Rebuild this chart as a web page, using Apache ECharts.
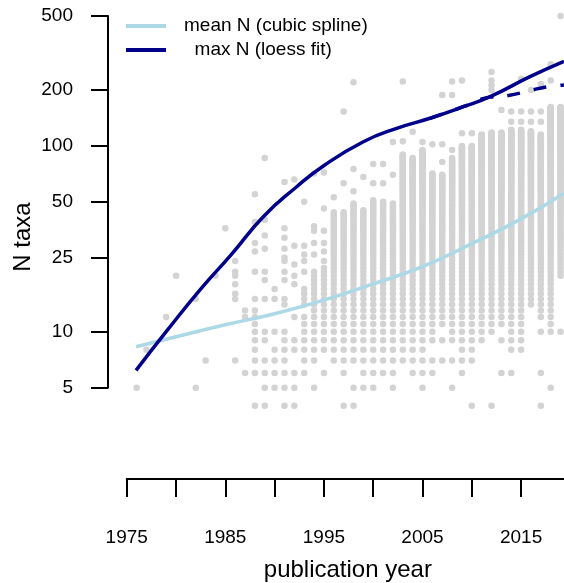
<!DOCTYPE html>
<html>
<head>
<meta charset="utf-8">
<script src="https://cdn.jsdelivr.net/npm/echarts@6.0.0/dist/echarts.min.js"></script>
<style>
    html, body { margin: 0; padding: 0; background: #fff; }
    #chart { width: 564px; height: 583px; }
</style>
</head>
<body>
<div id="chart"></div>
<script>
// y tick labels (log scale)
const yTicks = [5, 10, 25, 50, 100, 200, 500];

// dense columns of studies: year, lowest N, highest N (every integer in between)
const colYears = [1994, 1995, 1996, 1997, 1998, 1999, 2000, 2001, 2002, 2003, 2004, 2005, 2006,
    2007, 2008, 2009, 2010, 2011, 2012, 2013, 2014, 2015, 2016, 2017, 2018, 2019];
const colLow = [7, 8, 7, 6, 7, 7, 7, 7, 7, 7, 6, 5, 9,
    11, 9, 6, 7, 9, 10, 11, 8, 8, 14, 12, 10, 20];
const colHigh = [21, 22, 44, 44, 49, 45, 51, 50, 49, 90, 86, 95, 71,
    70, 86, 100, 100, 115, 118, 118, 122, 122, 120, 115, 162, 162];

// isolated studies per year
const spotYears = [1976, 1977, 1979, 1980, 1982, 1983, 1984, 1985, 1986, 1987, 1988, 1989, 1990,
    1991, 1992, 1993, 1994, 1995, 1996, 1997, 1998, 1999, 2000, 2001, 2002, 2003, 2004, 2005,
    2006, 2007, 2008, 2009, 2010, 2012, 2013, 2014, 2015, 2016, 2017, 2018, 2019];
const spotN = [
    [5], [8], [12], [20], [5, 15], [7], [20], [36],
    [7, 15, 16, 18, 20, 21, 24],
    [6, 12, 13],
    [4, 6, 7, 8, 9, 10, 11, 12, 13, 15, 21, 27, 30, 39, 55],
    [4, 5, 6, 7, 9, 10, 15, 19, 21, 28, 33, 40, 86],
    [5, 6, 7, 8, 10, 15, 17],
    [4, 5, 6, 7, 8, 9, 10, 14, 15, 19, 21, 24, 25, 28, 32, 36, 64],
    [4, 5, 6, 8, 9, 12, 18, 20, 23, 29, 66],
    [6, 7, 8, 9, 10, 11, 12, 14, 15, 16, 17, 21, 24, 26, 29, 50],
    [5, 26, 30, 35, 37, 71],
    [6, 24, 27, 30, 35, 46, 72],
    [53],
    [4, 63, 153],
    [4, 5, 57, 75, 220],
    [5, 6, 68],
    [5, 6, 63, 80],
    [6, 63, 80],
    [5, 6, 70, 105],
    [106, 222],
    [119],
    [105],
    [6, 7, 102],
    [7, 9, 82, 102, 188],
    [5, 7, 95, 188, 222],
    [117, 225],
    [4, 117],
    [4, 200, 212, 225, 250],
    [6, 9, 156],
    [6, 135, 153],
    [135, 153, 230],
    [135, 153, 200],
    [4, 6, 10, 135, 153, 215],
    [5, 225, 275],
    [10, 500]
];

// mean N (cubic spline)
const meanYears = [1975.94, 1980, 1985, 1990, 1995, 2000, 2005, 2010, 2015, 2019.35];
const meanN = [8.3, 9.4, 10.9, 12.5, 14.8, 18.1, 22.4, 29.8, 40.5, 55.7];

// max N (loess fit)
const maxYears = [1975.94, 1979.06, 1982.43, 1985.6, 1988.85, 1992.24, 1994.94, 1999.0, 2002.38, 2005.76, 2009.14, 2011.85, 2015.9, 2019.35];
const maxN = [6.2, 10.1, 16.8, 26, 41.6, 60.3, 78, 105.3, 124.3, 140.8, 162.5, 184, 235.7, 285];

// dashed alternative fit
const maxAltYears = [2005.76, 2009.14, 2011.85, 2013.5, 2016.2, 2017.4, 2019.35];
const maxAltN = [140.8, 162.5, 183, 186, 200, 207, 213];


const FONT = '"Liberation Sans", Arial, Helvetica, sans-serif';

function buildPoints() {
    const pts = [];
    colYears.forEach((yr, i) => {
        for (let n = colLow[i]; n <= colHigh[i]; n++) pts.push([yr, n]);
    });
    spotYears.forEach((yr, i) => {
        spotN[i].forEach(n => pts.push([yr, n]));
    });
    return pts;
}

const chart = echarts.init(document.getElementById('chart'), null, { renderer: 'canvas' });

const option = {
    animation: false,
    backgroundColor: '#fff',
    legend: {
        orient: 'vertical',
        left: 126,
        top: 14,
        padding: 0,
        itemGap: 0,
        itemWidth: 40,
        itemHeight: 4,
        icon: 'rect',
        selectedMode: false,
        data: ['mean N (cubic spline)', '  max N (loess fit)'],
        textStyle: {
            fontFamily: FONT,
            fontSize: 19,
            color: '#000',
            lineHeight: 24,
            padding: [0, 0, 0, 13]
        }
    },
    grid: [
        // y axis drawn only from 5 to 500
        { left: 108, right: 0, top: 16, bottom: 195.3, outerBoundsMode: 'none', containLabel: false },
        // data area
        { left: 108, right: 0, top: 16, bottom: 104, outerBoundsMode: 'none', containLabel: false },
        // x axis drawn from 1975
        { left: 126.7, right: 0, top: 16, bottom: 104, outerBoundsMode: 'none', containLabel: false }
    ],
    xAxis: [
        { gridIndex: 0, type: 'value', min: 1973.1, max: 2019.35, show: false },
        { gridIndex: 1, type: 'value', min: 1973.1, max: 2019.35, show: false },
        {
            gridIndex: 2, type: 'value', min: 1975, max: 2019.35, interval: 5,
            position: 'bottom',
            axisLine: { show: true, lineStyle: { color: '#000', width: 2 } },
            axisTick: { show: true, inside: false, length: 18, lineStyle: { color: '#000', width: 2 } },
            splitLine: { show: false },
            axisLabel: {
                show: true,
                margin: 49,
                fontFamily: FONT,
                fontSize: 19,
                color: '#000',
                showMaxLabel: false,
                formatter: v => (v % 10 === 5 ? String(v) : '')
            },
            name: 'publication year',
            nameLocation: 'middle',
            nameGap: 79,
            nameTextStyle: { fontFamily: FONT, fontSize: 24, color: '#000', padding: [0, 0, 0, 5] }
        }
    ],
    yAxis: [
        {
            gridIndex: 0, type: 'log', logBase: 10, min: 5, max: 500,
            axisLine: { show: true, lineStyle: { color: '#000', width: 2 } },
            axisTick: { show: true, inside: false, length: 17, customValues: yTicks, lineStyle: { color: '#000', width: 2 } },
            splitLine: { show: false },
            minorTick: { show: false },
            axisLabel: {
                show: true,
                margin: 35,
                fontFamily: FONT,
                fontSize: 19,
                color: '#000',
                customValues: yTicks
            }
        },
        {
            gridIndex: 1, type: 'log', logBase: 10, min: 1.613, max: 500,
            axisLine: { show: false },
            axisTick: { show: false },
            axisLabel: { show: false },
            splitLine: { show: false },
            name: 'N taxa',
            nameLocation: 'middle',
            nameGap: 73,
            nameRotate: 90,
            nameTextStyle: { fontFamily: FONT, fontSize: 24, color: '#000', padding: [0, 0, 0, 21] }
        },
        { gridIndex: 2, type: 'log', logBase: 10, min: 1.613, max: 500, show: false }
    ],
    series: [
        {
            name: 'studies',
            type: 'scatter',
            xAxisIndex: 1,
            yAxisIndex: 1,
            symbol: 'circle',
            symbolSize: 6.5,
            progressive: 0,
            clip: false,
            silent: true,
            itemStyle: { color: '#D3D3D3', opacity: 1 },
            data: buildPoints(),
            z: 1
        },
        {
            name: 'mean N (cubic spline)',
            type: 'line',
            xAxisIndex: 1,
            yAxisIndex: 1,
            smooth: true,
            showSymbol: false,
            clip: false,
            itemStyle: { color: '#ADD8E6' },
            lineStyle: { color: '#ADD8E6', width: 3.5 },
            data: meanYears.map((x, i) => [x, meanN[i]]),
            z: 3
        },
        {
            name: 'max N alt',
            type: 'line',
            xAxisIndex: 1,
            yAxisIndex: 1,
            smooth: true,
            showSymbol: false,
            clip: false,
            itemStyle: { color: '#00008B' },
            lineStyle: { color: '#00008B', width: 3.5, type: [13, 14] },
            data: maxAltYears.map((x, i) => [x, maxAltN[i]]),
            z: 3
        },
        {
            name: '  max N (loess fit)',
            type: 'line',
            xAxisIndex: 1,
            yAxisIndex: 1,
            smooth: true,
            showSymbol: false,
            clip: false,
            itemStyle: { color: '#00008B' },
            lineStyle: { color: '#00008B', width: 3.5 },
            data: maxYears.map((x, i) => [x, maxN[i]]),
            z: 4
        }
    ]
};

chart.setOption(option);
</script>
</body>
</html>
